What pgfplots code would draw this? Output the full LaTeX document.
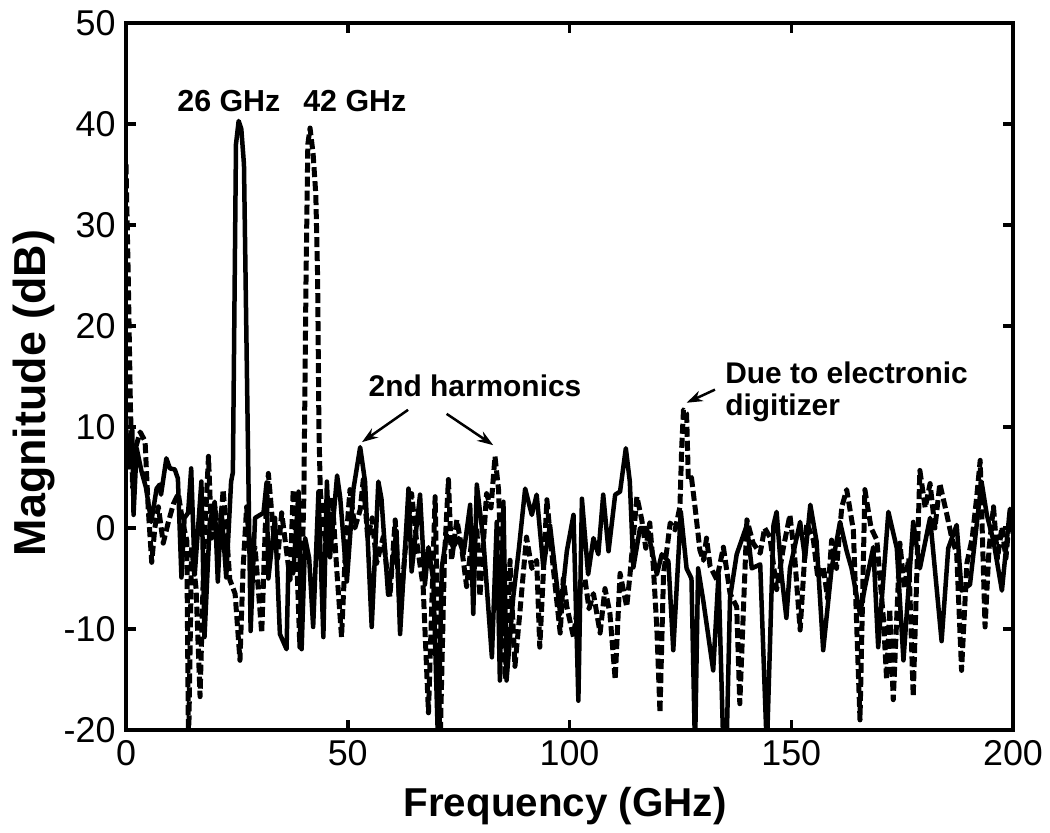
\documentclass[border=0pt]{standalone}
\usepackage{fontspec}
\setmainfont{Liberation Sans}
\usepackage{pgfplots}
\pgfplotsset{compat=1.18}
\usetikzlibrary{arrows.meta}
\begin{document}
\begin{tikzpicture}
\begin{axis}[
  at={(0,0)}, anchor=south west,
  scale only axis, width=887bp, height=707bp,
  xmin=0, xmax=200, ymin=-20, ymax=50,
  xtick={0,50,100,150,200}, ytick={-20,-10,0,10,20,30,40,50},
  tick align=inside, major tick length=10bp,
  axis line style={line width=4bp},
  tick style={line width=3.5bp, black},
  /pgf/number format/assume math mode=true,
  ticklabel style={font=\fontsize{36}{40}\selectfont},
  xticklabel style={yshift=-7bp},
  yticklabel style={xshift=-7bp},
  xlabel={\bfseries Frequency (GHz)},
  ylabel={\bfseries Magnitude (dB)},
  xlabel style={font=\fontsize{40.5}{44}\selectfont, at={(axis description cs:0.495,-0.123)}, anchor=base},
  ylabel style={font=\fontsize{45}{48}\selectfont, at={(axis description cs:-0.0913,0.4767)}, anchor=base},
  clip=true,
]
% dashed series (42 GHz)
\addplot[black, line width=5bp, dash pattern=on 10bp off 4bp, line join=round] coordinates {
(0,36) (0.5,25) (1.0,12) (1.5,4) (2.2,8) (3.2,9.5) (4.3,8.6) (5.0,2) (5.8,-3.4) (6.5,0) (7.3,2.1) (8.4,-1.5) (9.5,0.5) (10.7,2.4) (11.8,3.4) (12.8,0.5) (13.7,-1.2) (14.1,-22) (14.8,-1.9) (15.8,-6) (16.7,-16.7) (17.6,-2) (18.6,7.1) (19.3,-1) (20.1,2.1) (21.0,-2) (21.9,3.8) (22.6,0) (23.4,-5.1) (24.6,-6.5) (25.7,-13.1) (26.4,-4) (27.2,2.1) (28.1,-3) (29.1,-1.9) (30.6,-10.4) (31.4,0) (32.1,5.4) (33.2,-0.2) (34.2,-3) (35.1,1.5) (37.0,-5.1) (37.7,3.8) (38.5,-3) (39.2,-11.8) (40.1,3) (40.6,25) (41.0,38) (41.5,39.6) (42.2,37) (42.8,33) (43.2,25) (43.5,10) (43.8,3.8) (44.5,0) (45.3,-1.9) (46.5,3) (47.5,-4) (48.6,-10.8) (49.5,-2) (50.5,3.8) (51.6,0) (52.8,1.8) (53.5,4.8) (54.5,-1) (55.5,1) (56.5,-3.5) (58.0,-0.9) (59.5,-6.8) (60.7,0.8) (61.8,-8.4) (63.0,-2) (64.4,3.4) (65.5,-1.2) (67.0,-5.8) (68.2,-18.3) (69.7,3.1) (70.8,-22) (71.8,-3) (72.7,4.8) (73.4,-3.2) (74.6,0.8) (75.7,-2) (76.8,-5.8) (78.0,-1) (79.1,0.1) (79.8,-6.8) (81.3,3.4) (82.3,2) (83.2,7.1) (84.0,3.8) (84.7,-5.1) (85.5,-15) (86.6,-3.2) (87.7,-13.7) (88.8,-8.4) (90.3,-0.9) (91.5,-4) (92.6,-3.2) (93.3,-11.8) (94.9,2.8) (96.3,-3.8) (97.9,-10.4) (98.6,-5) (99.4,-7.8) (100.9,-10.8) (102.4,-5.8) (103.5,-5.1) (104.4,-8) (105.4,-6.5) (106.9,-10.4) (108.0,-6) (109.1,-8.4) (110.3,-15) (111.4,-4.5) (112.9,-7.8) (113.6,-4.8) (115.2,3.1) (116.3,0.8) (117.2,-2) (118.1,0.5) (118.9,-3.8) (119.7,-10) (120.4,-18.3) (121.2,-4.5) (122.0,-2) (122.7,0.5) (123.8,-0.2) (124.9,2.1) (125.3,8) (125.7,11.7) (126.4,11.3) (126.8,4.8) (127.5,5) (128.3,2.1) (129.4,-2.2) (130.2,-3.2) (130.9,-1) (131.7,-3.8) (133.2,-5.1) (134.7,-1.9) (136.2,-6.5) (137.7,-7.8) (138.4,-17.4) (140.0,0.8) (141.4,-1.5) (143.0,-2.5) (144.0,0) (145.2,-0.9) (146.7,-6.1) (148.2,-2) (149.7,1.3) (150.8,-3) (152.0,-10.1) (153.5,0.5) (155.0,-1.2) (156.0,-5) (157.2,-3.8) (158.2,-7) (159.1,-1.2) (160.2,-4) (161.4,2.1) (162.5,3.8) (164.0,-0.2) (165.5,-19) (166.6,3.8) (168.0,0) (169.3,-1.2) (170.8,-9.1) (171.5,-15) (172.2,-8) (173.0,-17) (174.5,-1.5) (175.5,-6) (176.5,-3) (177.5,-16.7) (179.0,5.7) (180.2,2) (181.3,4.4) (182.4,0) (183.5,4.4) (185.0,1.5) (186.2,-1) (187.3,-2.5) (188.4,-14.1) (189.6,-3.5) (190.8,-1) (191.8,3) (192.6,6.7) (193.7,-9.8) (194.6,-2) (195.6,2.1) (196.5,-3) (197.5,0.1) (198.4,-3) (199.3,1.5) (200,-0.3)
};
% solid series (26 GHz)
\addplot[black, line width=4.5bp, line join=round] coordinates {
(0,10) (0.7,6) (1.4,10) (1.7,1.3) (2.4,7.9) (3.5,5.6) (4.5,4) (5.7,0.6) (6.9,3.9) (7.6,4.3) (7.9,3.3) (9.1,6.9) (9.9,5.9) (11.0,5.8) (11.7,4.9) (12.5,-4.9) (13.2,1.0) (14.0,1.5) (14.7,5.9) (15.5,-4.6) (17.0,4.6) (17.7,-10.8) (18.9,0.6) (20.0,2.6) (20.7,-5.3) (21.5,1.9) (22.6,-4.9) (23.7,4.6) (24.1,5.5) (24.8,38) (25.4,40.3) (26.0,39.5) (26.6,36) (27.6,5) (28.1,-10.2) (29.1,1.0) (31.0,1.5) (31.7,4.5) (32.1,-5) (33.6,1.0) (34.7,-10.5) (36.2,-12) (36.6,-4) (37.7,-4.5) (38.9,3.6) (39.6,-12) (40.4,-1) (41.3,-3) (42.2,-9.8) (43.4,3.6) (44.5,-10.8) (45.3,4.6) (46.0,-2.9) (47.6,5.2) (48.3,3) (49.8,-5.3) (51.3,3.9) (52.8,8.0) (53.9,4.6) (55.4,-9.8) (56.9,4.6) (57.6,2.9) (59.1,-6.6) (61.0,-0.3) (61.8,-10.5) (63.7,3.9) (64.4,-4.3) (66.3,3.3) (67.4,-5.6) (68.2,-1.9) (69.3,-5.3) (70.4,-22) (71.2,-3.9) (72.3,-0.7) (73.8,-1.9) (75.0,-1) (76.1,-2.6) (77.6,2.3) (78.3,-8.5) (79.1,4.3) (80.6,-1.3) (82.5,-12.8) (83.6,0.6) (84.3,-15.1) (85.1,2.6) (85.8,-15.1) (87.3,-6.9) (88.6,-2) (90.0,3.9) (91.5,1.3) (92.6,3.3) (94.1,-3.9) (95.6,0.3) (97.9,-8.5) (99.4,-2.3) (100.9,1.3) (102.0,-17.1) (102.8,2.9) (104.2,-4.6) (105.4,-1.0) (106.5,-2.6) (107.6,3.3) (108.8,-2.3) (110.3,3.3) (111.4,3.6) (112.7,7.9) (113.6,4.6) (114.4,-3.9) (115.9,0.0) (117.4,0.0) (118.5,-2) (119.7,-4.6) (120.8,-2.6) (122.3,-3.3) (123.4,-12.1) (125.1,1.6) (126.4,-4) (127.5,-5) (128.3,-22) (129.0,-4) (130.2,-7.3) (132.4,-14.1) (133.6,-4.6) (134.7,-22) (135.4,-22) (136.2,-6.9) (137.7,-2.6) (140.0,0.3) (141.1,-4) (143.0,-3.6) (144.5,-22) (146.0,0.3) (146.7,1.6) (147.8,-4.6) (148.9,-8.9) (149.7,-4) (152.0,0.6) (153.1,-3) (154.3,2.3) (155.7,-1.3) (157.2,-12.1) (159.1,-4) (161.0,0.6) (162.5,-2.3) (163.6,-4) (165.5,-8.5) (166.6,-5.9) (168.5,-1.9) (169.6,-11.8) (171.9,1.6) (173.8,-2) (175.3,-13.1) (177.5,0.6) (179.0,-4) (181.3,1.0) (183.9,-11.2) (185.4,-2) (187.3,0.3) (188.4,-6.2) (190.3,-5.6) (192.9,4.6) (194.1,1.3) (195.6,-1.3) (197.5,-6.2) (199.3,1.9) (200,0.3)
};
\node[font=\fontsize{30.5}{34}\selectfont\bfseries, anchor=base] at (axis cs:23.2,41.2) {26 GHz};
\node[font=\fontsize{30.5}{34}\selectfont\bfseries, anchor=base] at (axis cs:51.6,41.2) {42 GHz};
\node[font=\fontsize{30}{34}\selectfont\bfseries, anchor=base] at (axis cs:78.7,13.0) {2nd harmonics};
\node[font=\fontsize{30}{34}\selectfont\bfseries, anchor=base west, inner sep=0pt] at (axis cs:135.1,14.3) {Due to electronic};
\node[font=\fontsize{30}{34}\selectfont\bfseries, anchor=base west, inner sep=0pt] at (axis cs:135.1,11.1) {digitizer};
\draw[line width=2.5bp, -{Stealth[length=16bp,width=11bp]}] (axis cs:63.6,11.7) -- (axis cs:53.2,8.5);
\draw[line width=2.5bp, -{Stealth[length=16bp,width=11bp]}] (axis cs:72.3,11.3) -- (axis cs:82.8,8.2);
\draw[line width=2.5bp, -{Stealth[length=16bp,width=11bp]}] (axis cs:132.8,13.7) -- (axis cs:126.4,12.4);
\end{axis}
\pgfresetboundingbox
\path[use as bounding box] (-126bp,-103bp) rectangle (924bp,730bp);
\end{tikzpicture}
\end{document}
